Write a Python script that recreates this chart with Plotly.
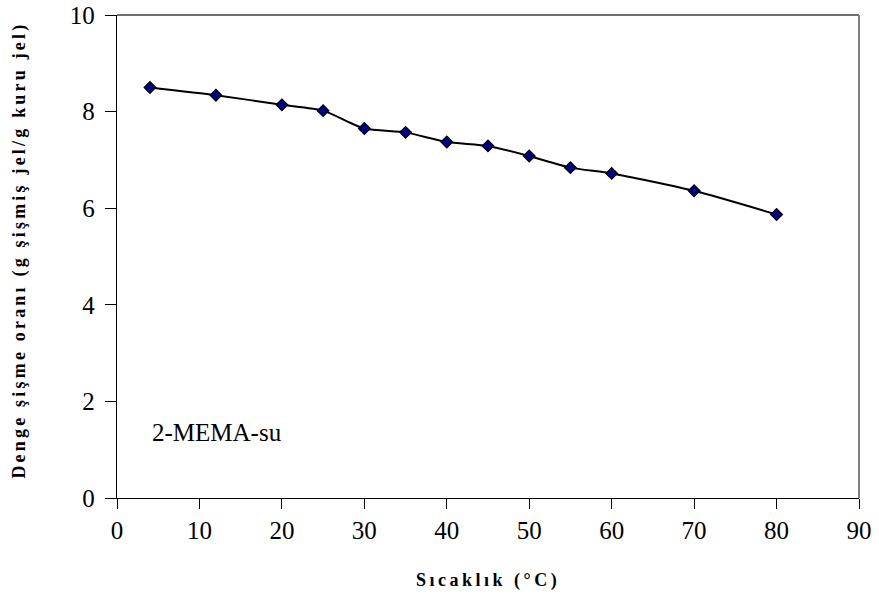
import plotly.graph_objects as go

# Equilibrium swelling ratio of 2-MEMA gel in water vs temperature
sicaklik = [4, 12, 20, 25, 30, 35, 40, 45, 50, 55, 60, 70, 80]
sisme_orani = [8.50, 8.34, 8.14, 8.02, 7.65, 7.57, 7.37, 7.29, 7.08, 6.84, 6.72, 6.36, 5.87]

x_ticks = [0, 10, 20, 30, 40, 50, 60, 70, 80, 90]
y_ticks = [0, 2, 4, 6, 8, 10]

serif = '"Times New Roman", "Liberation Serif", Times, serif'

fig = go.Figure()
fig.add_trace(go.Scatter(
    x=sicaklik, y=sisme_orani,
    mode="lines+markers",
    line=dict(color="black", width=2, shape="spline", smoothing=0.6),
    marker=dict(symbol="diamond", size=9, color="#000080",
                line=dict(color="black", width=1.2)),
    showlegend=False,
    cliponaxis=False,
))

fig.update_xaxes(
    range=[0, 90], tickvals=x_ticks, automargin=False,
    showgrid=False, zeroline=False,
    showline=True, linecolor="black", linewidth=1.3,
    ticks="outside", ticklen=10, tickwidth=1.3, tickcolor="black",
    ticklabelstandoff=0,
    tickfont=dict(family=serif, size=25, color="black"),
)
fig.update_yaxes(
    range=[0, 10], tickvals=y_ticks, automargin=False,
    showgrid=False, zeroline=False,
    showline=True, linecolor="black", linewidth=1.3,
    ticks="outside", ticklen=11, tickwidth=1.3, tickcolor="black",
    ticklabelstandoff=5,
    tickfont=dict(family=serif, size=25, color="black"),
)

# axis titles (letter-spaced bold serif)
fig.add_annotation(
    xref="paper", yref="paper", x=0.5, y=-0.17,
    xanchor="center", yanchor="middle", showarrow=False,
    text='<b><span style="letter-spacing:3.5px">Sıcaklık (°C)</span></b>',
    font=dict(family=serif, size=18, color="black"),
)
fig.add_annotation(
    xref="paper", yref="paper", x=-0.1307, y=0.035,
    xanchor="center", yanchor="bottom", textangle=-90, showarrow=False,
    text='<b><span style="letter-spacing:3.2px">Denge şişme oranı (g şişmiş jel/g kuru jel)</span></b>',
    font=dict(family=serif, size=18, color="black"),
)

# top and right frame lines of the plot area
fig.add_shape(type="line", xref="paper", yref="paper", x0=0, x1=1, y0=1, y1=1,
              line=dict(color="#404040", width=1.5))
fig.add_shape(type="line", xref="paper", yref="paper", x0=1, x1=1, y0=0, y1=1,
              line=dict(color="#808080", width=2))

fig.add_annotation(x=4, y=1.35, xref="x", yref="y", text="2-MEMA-su",
                   showarrow=False, xanchor="left", yanchor="middle",
                   font=dict(family=serif, size=25, color="black"))

fig.update_layout(
    width=879, height=605,
    margin=dict(l=117, r=20, t=15, b=107),
    paper_bgcolor="white", plot_bgcolor="white",
)

fig.write_html("out.html")
